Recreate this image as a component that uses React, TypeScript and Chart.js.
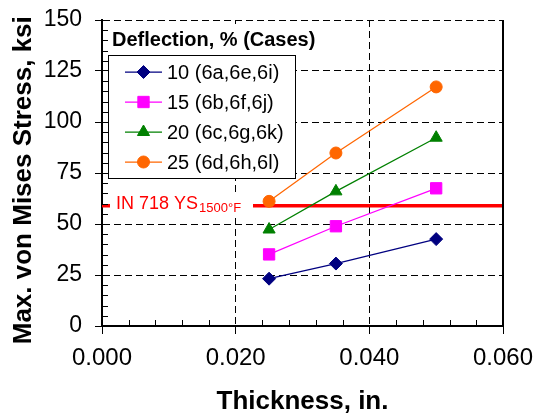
import React, { useEffect, useRef } from 'react';
import { Chart, registerables } from 'chart.js';

Chart.register(...registerables);

const FONT = "'Liberation Sans', Arial, Helvetica, sans-serif";

const thickness = [0.025, 0.035, 0.05];
const seriesLabels = ['10 (6a,6e,6i)', '15 (6b,6f,6j)', '20 (6c,6g,6k)', '25 (6d,6h,6l)'];
const stress10 = [23.2, 30.6, 42.6];
const stress15 = [35.1, 48.9, 67.5];
const stress20 = [47.3, 66.0, 92.3];
const stress25 = [61.1, 84.8, 117.2];
const seriesColors = ['#000080', '#FF00FF', '#008000', '#FF6600'];
const pointStyles = ['rectRot', 'rect', 'triangle', 'circle'];
const pointRadii = [6.5, 8, 7, 6];
const yieldStrength = 59;
const xRange = [0, 0.06];
const yRange = [0, 150];
const xTickLabels = ['0.000', '0.020', '0.040', '0.060'];
const yTickLabels = ['0', '25', '50', '75', '100', '125', '150'];
const legendTitle = 'Deflection, % (Cases)';
const yieldLabel = 'IN 718 YS';
const yieldSub = '1500°F';
const xTitle = 'Thickness, in.';
const yTitle = 'Max. von Mises Stress, ksi';

const allStress = [stress10, stress15, stress20, stress25];

function drawMarker(ctx: CanvasRenderingContext2D, style: string, x: number, y: number, r: number) {
  ctx.beginPath();
  if (style === 'circle') {
    ctx.arc(x, y, r, 0, Math.PI * 2);
  } else if (style === 'rect') {
    const h = Math.SQRT1_2 * r;
    ctx.rect(x - h, y - h, 2 * h, 2 * h);
  } else if (style === 'rectRot') {
    ctx.moveTo(x - r, y);
    ctx.lineTo(x, y - r);
    ctx.lineTo(x + r, y);
    ctx.lineTo(x, y + r);
    ctx.closePath();
  } else if (style === 'triangle') {
    ctx.moveTo(x, y - r);
    ctx.lineTo(x + Math.sin((2 * Math.PI) / 3) * r, y + 0.5 * r);
    ctx.lineTo(x - Math.sin((2 * Math.PI) / 3) * r, y + 0.5 * r);
    ctx.closePath();
  }
  ctx.fill();
  ctx.stroke();
}

const decorPlugin = {
  id: 'decor',
  afterDatasetsDraw(chart: any) {
    const ctx: CanvasRenderingContext2D = chart.ctx;
    const { left, right, top, bottom } = chart.chartArea;
    const xs = chart.scales.x;
    const ys = chart.scales.y;
    ctx.save();

    // minor ticks (inside)
    ctx.strokeStyle = '#000';
    ctx.lineWidth = 1;
    ctx.beginPath();
    for (let v = 5; v < yRange[1]; v += 5) {
      if (v % 25 === 0) continue;
      const py = Math.round(ys.getPixelForValue(v)) + 0.5;
      ctx.moveTo(left, py);
      ctx.lineTo(left + 6, py);
    }
    for (let i = 1; i < 15; i++) {
      if (i % 5 === 0) continue;
      const px = Math.round(xs.getPixelForValue(i * 0.004)) + 0.5;
      ctx.moveTo(px, bottom);
      ctx.lineTo(px, bottom - 6);
    }
    ctx.stroke();

    // right border solid
    ctx.lineWidth = 2;
    ctx.beginPath();
    ctx.moveTo(Math.round(right), top);
    ctx.lineTo(Math.round(right), bottom);
    ctx.stroke();

    // yield label
    const yy = ys.getPixelForValue(yieldStrength);
    ctx.fillStyle = '#fff';
    ctx.fillRect(left + 8, yy - 10, 143, 20);
    ctx.fillStyle = '#FF0000';
    ctx.textBaseline = 'alphabetic';
    ctx.textAlign = 'left';
    ctx.font = `18px ${FONT}`;
    ctx.fillText(yieldLabel, left + 14, yy + 3);
    const w = ctx.measureText(yieldLabel).width;
    ctx.font = `13px ${FONT}`;
    ctx.fillText(yieldSub, left + 14 + w + 1, yy + 6);

    // legend title
    ctx.fillStyle = '#fff';
    ctx.fillRect(left + 6, top + 4, 214, 31);
    ctx.fillStyle = '#000';
    ctx.font = `bold 20px ${FONT}`;
    ctx.fillText(legendTitle, left + 10, top + 26);

    // legend box
    const bx = left + 6, by = top + 35, bw = 187, bh = 123;
    ctx.fillStyle = '#fff';
    ctx.fillRect(bx, by, bw, bh);
    ctx.strokeStyle = '#000';
    ctx.lineWidth = 1;
    ctx.strokeRect(bx + 0.5, by + 0.5, bw, bh);

    for (let i = 0; i < seriesLabels.length; i++) {
      const cy = by + 17 + i * 30;
      ctx.strokeStyle = seriesColors[i];
      ctx.lineWidth = 1.25;
      ctx.beginPath();
      ctx.moveTo(bx + 17, cy);
      ctx.lineTo(bx + 54, cy);
      ctx.stroke();
      ctx.fillStyle = seriesColors[i];
      ctx.lineWidth = 1;
      drawMarker(ctx, pointStyles[i], bx + 35.5, cy, pointRadii[i]);
      ctx.fillStyle = '#000';
      ctx.font = `20px ${FONT}`;
      ctx.fillText(seriesLabels[i], bx + 59, cy + 7);
    }
    ctx.restore();
  },
};

export default function App() {
  const ref = useRef<HTMLCanvasElement>(null);
  useEffect(() => {
    if (!ref.current) return;
    Chart.defaults.font.family = FONT;
    Chart.defaults.color = '#000';
    const datasets: any[] = allStress.map((vals, i) => ({
      label: seriesLabels[i],
      data: vals.map((v, j) => ({ x: thickness[j], y: v })),
      borderColor: seriesColors[i],
      backgroundColor: seriesColors[i],
      pointBackgroundColor: seriesColors[i],
      pointBorderColor: seriesColors[i],
      pointBorderWidth: 1,
      pointStyle: pointStyles[i],
      pointRadius: pointRadii[i],
      borderWidth: 1.25,
      tension: 0,
      order: 1,
    }));
    datasets.push({
      label: 'yield',
      data: [
        { x: xRange[0], y: yieldStrength },
        { x: xRange[1], y: yieldStrength },
      ],
      borderColor: '#FF0000',
      borderWidth: 3.5,
      pointRadius: 0,
      order: 10,
    });
    const chart = new Chart(ref.current, {
      type: 'line',
      data: { datasets },
      plugins: [decorPlugin],
      options: {
        responsive: false,
        animation: false,
        devicePixelRatio: 1,
        layout: { padding: { left: 0, right: 31, top: 20, bottom: 0 } },
        plugins: { legend: { display: false }, tooltip: { enabled: false } },
        scales: {
          x: {
            type: 'linear',
            min: xRange[0],
            max: xRange[1],
            afterFit: (s: any) => {
              s.height = 89;
              s.paddingLeft = 0;
              s.paddingRight = 0;
            },
            ticks: {
              stepSize: 0.02,
              autoSkip: false,
              maxRotation: 0,
              padding: 10,
              color: '#000',
              font: { size: 24 },
              callback: (_v: any, i: number) => xTickLabels[i],
            },
            grid: { color: '#000', lineWidth: 1, drawTicks: true, tickLength: 8, tickColor: '#000', tickWidth: 1 },
            border: { display: true, color: '#000', width: 2, dash: [7, 4] },
            title: {
              display: true,
              text: xTitle,
              color: '#000',
              font: { size: 26, weight: 'bold', lineHeight: 1 },
              padding: { top: 0, bottom: 0 },
            },
          },
          y: {
            type: 'linear',
            min: yRange[0],
            max: yRange[1],
            afterFit: (s: any) => {
              s.width = 102;
              s.paddingTop = 0;
              s.paddingBottom = 0;
            },
            ticks: {
              stepSize: 25,
              padding: 13,
              color: '#000',
              font: { size: 23 },
              callback: (_v: any, i: number) => yTickLabels[i],
            },
            grid: { color: '#000', lineWidth: 1, drawTicks: true, tickLength: 7, tickColor: '#000', tickWidth: 1 },
            border: { display: true, color: '#000', width: 2, dash: [7, 4] },
            title: {
              display: true,
              text: yTitle + '  ',
              color: '#000',
              font: { size: 26, weight: 'bold', lineHeight: 1 },
              padding: { top: 11, bottom: 0 },
            },
          },
        },
      } as any,
    });
    return () => chart.destroy();
  }, []);
  return (
    <div style={{ position: 'absolute', left: 0, top: 0, width: 534, height: 415, background: '#fff' }}>
      <canvas ref={ref} width={534} height={415} style={{ display: 'block' }} />
    </div>
  );
}
